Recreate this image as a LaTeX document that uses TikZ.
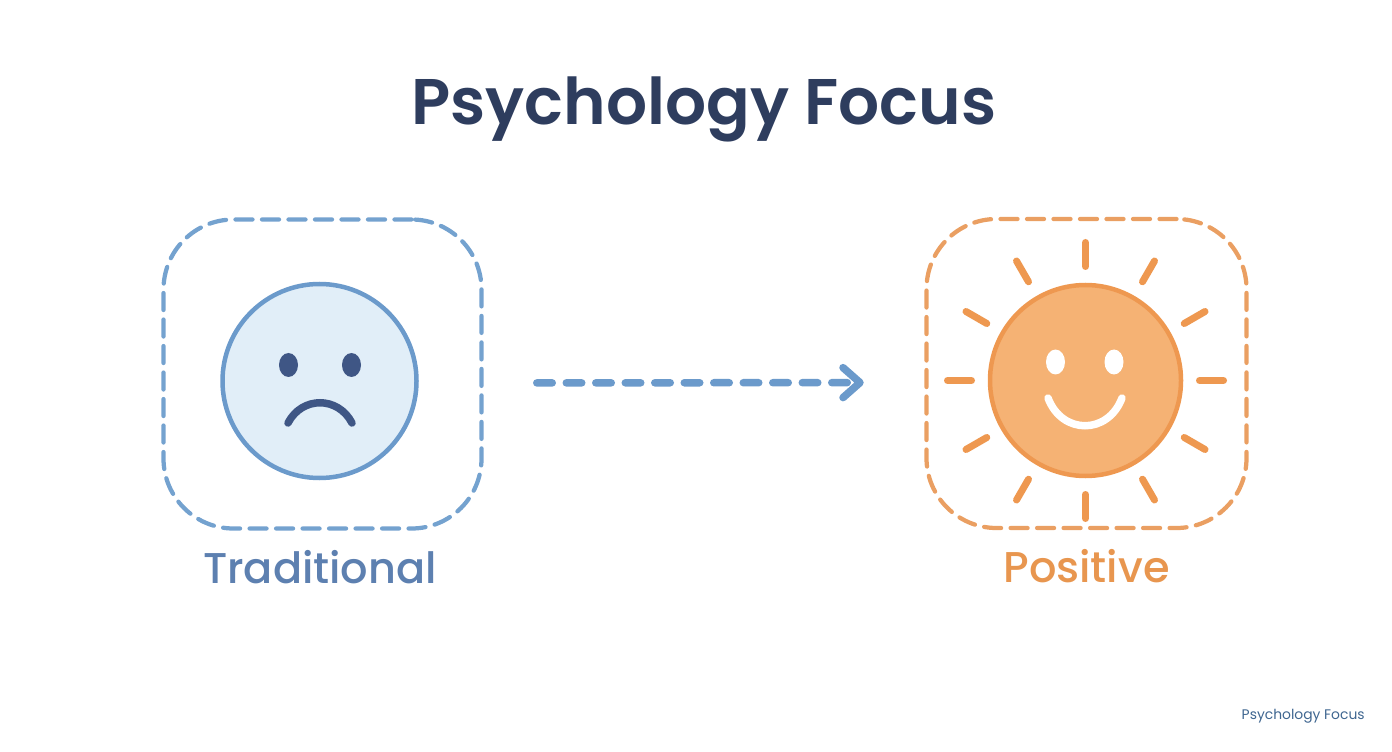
\documentclass[tikz,border=0pt]{standalone}
\usepackage{fontspec}
\setmainfont{Poppins}
\newfontfamily\titlefont{Poppins SemiBold}
\newfontfamily\labelfont{Poppins Medium}
\usetikzlibrary{arrows.meta, positioning, calc}
\definecolor{titleblue}{HTML}{2E3D5E}
\definecolor{dashblue}{HTML}{74A2CF}
\definecolor{lineblue}{HTML}{6B9ACB}
\definecolor{paleblue}{HTML}{E1EEF8}
\definecolor{inkblue}{HTML}{3F5685}
\definecolor{textblue}{HTML}{5D80B0}
\definecolor{dashorange}{HTML}{EA9F62}
\definecolor{lineorange}{HTML}{EE9850}
\definecolor{sunorange}{HTML}{F5B274}
\definecolor{textorange}{HTML}{E8964F}
\definecolor{footblue}{HTML}{3F6690}
\tikzset{
  framebox/.style={draw, rounded corners=14mm, line width=0.85mm, line cap=round,
    dash pattern=on 3.4mm off 1.9mm, minimum height=61.8mm},
  faceball/.style={circle, draw, line width=0.9mm, inner sep=0pt},
  caption/.style={font=\labelfont\fontsize{24.5}{28}\selectfont, inner sep=0pt},
  sunray/.style={lineorange, line width=1.4mm, line cap=round},
  flowline/.style={lineblue, line width=1.5mm, line cap=round, dash pattern=on 3.1mm off 2.8mm,
    -{Straight Barb[round,length=3.4mm,width=6mm]}}
}
\begin{document}
\begin{tikzpicture}[x=0.2mm,y=-0.2mm]
\useasboundingbox (0,0) rectangle (1392,752);
% Title
\node[font=\titlefont\fontsize{36.7}{44}\selectfont, text=titleblue, inner sep=0pt] (title) at (704,109) {Psychology Focus};
% Traditional side
\node[framebox, dashblue, minimum width=63.6mm] (tradbox) at (322.5,374) {};
\node[faceball, lineblue, fill=paleblue, minimum size=38.8mm] (tradface) at (319.5,381) {};
\fill[inkblue] (288.5,365) ellipse (9.5 and 12);
\fill[inkblue] (351.5,365) ellipse (9.5 and 12);
\draw[inkblue, line width=1.5mm, line cap=round] (288,423) .. controls (302,396) and (338,396) .. (352,423);
\node[caption, text=textblue, below=3.8mm of tradbox, xshift=-0.5mm] (tradlabel) {Traditional};
% Positive side
\node[framebox, dashorange, minimum width=64mm] (posbox) at (1086.5,373.5) {};
\node[faceball, lineorange, fill=sunorange, minimum size=38.2mm] (sunface) at (1085.5,380.5) {};
\foreach \a in {0,30,...,330} {
    \draw[sunray] (sunface.center) ++(\a:114) -- ++(\a:24);
}
\fill[white] (1055.5,362) ellipse (9.5 and 12.5);
\fill[white] (1114,362) ellipse (9.5 and 12.5);
\draw[white, line width=1.5mm, line cap=round] (1048,398) .. controls (1062,435) and (1108,435) .. (1122,398);
\node[caption, text=textorange, below=3.8mm of posbox] (poslabel) {Positive};
% Arrow
\draw[flowline, shorten <=23.6mm, shorten >=24.8mm] ([yshift=-0.4mm]tradface.east) -- ([yshift=-0.4mm]sunface.west);
% Footer
\node[font=\fontsize{7.9}{10}\selectfont, text=footblue, inner sep=0pt, anchor=east] (footer) at (1365,716) {Psychology Focus};
\end{tikzpicture}
\end{document}
